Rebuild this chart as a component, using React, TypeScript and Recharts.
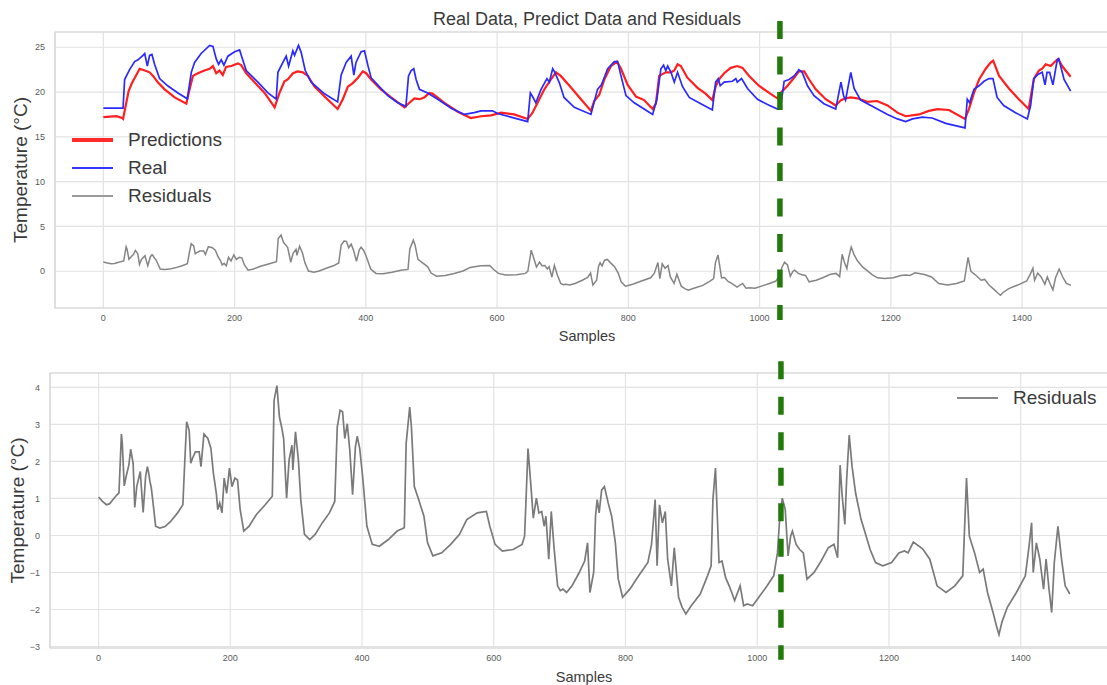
import React from "react";
import {
  ComposedChart,
  Line,
  XAxis,
  YAxis,
  CartesianGrid,
  ReferenceLine,
  ReferenceArea,
  Legend,
} from "recharts";

// x ticks shared by both panels
const sampleTicks = [0, 200, 400, 600, 800, 1000, 1200, 1400];
const topTempTicks = [0, 5, 10, 15, 20, 25];
const residualTicks = [-3, -2, -1, 0, 1, 2, 3, 4];

// train / test split marker (sample index)
const splitTop = 1031;
const splitBottom = 1036;

// [sample, temperature]
const real: [number, number][] = [
  [0, 18.2], [30, 18.2], [32.4, 21.4], [40, 22.5], [47.7, 23.4], [52.8, 23.6], [60.4, 24.1], [63, 24.3],
  [67, 22.9], [70.5, 24.1], [74, 24.2], [78, 23.1], [85.7, 21.5], [98, 20.7], [113.6, 19.9], [127.9, 19.25],
  [134, 22.2], [139, 23.3], [149, 24.3], [162, 25.2], [167, 25.1], [172, 23.7], [175.6, 23.1], [179.6, 23.6],
  [183.7, 23.0], [189.8, 24.0], [200, 24.5], [207.6, 24.7], [211, 23.9], [217.7, 22.4], [235.5, 21.1],
  [250.8, 19.9], [263.4, 19.2], [266, 22.2], [273.6, 23.3], [278.6, 24.0], [282.3, 22.9], [288.8, 24.6],
  [291.3, 24.1], [297.4, 25.2], [301.5, 24.4], [307.6, 22.4], [316.7, 21.1], [337, 19.8], [357, 18.9],
  [362.4, 21.9], [370, 23.3], [377.6, 24.0], [381.7, 21.9], [385, 23.3], [392.8, 24.5], [397.9, 24.6],
  [403, 23.0], [408, 21.6], [418, 20.8], [433.4, 19.6], [448.6, 18.8], [461, 18.4], [465, 21.8], [469, 22.4],
  [473, 22.6], [476.6, 21.4], [481.7, 20.3], [494, 19.9], [509.6, 19.2], [530, 18.2], [550, 17.5], [565, 17.7],
  [575.6, 17.9], [593, 17.9], [600.8, 17.6], [621, 17.2], [646.6, 16.7], [650.7, 19.9], [654, 19.5],
  [659, 18.8], [667, 20.3], [676, 21.5], [679.6, 21.1], [684.7, 22.6], [688, 22.2], [695, 21.0], [702, 19.4],
  [717.7, 18.3], [743, 17.5], [753, 20.3], [759, 20.8], [768.5, 22.6], [778.6, 23.4], [783.7, 23.4],
  [788.8, 21.8], [796.4, 19.6], [809, 18.8], [824, 18.1], [837, 17.5], [843.5, 19.2], [849.6, 22.6],
  [853.7, 23.0], [857, 22.4], [860, 22.9], [865, 22.2], [870, 21.1], [875, 22.2], [882.6, 20.6], [892.8, 19.4],
  [910.5, 18.7], [928, 18.0], [933, 21.1], [937, 21.5], [940, 20.7], [946, 21.1], [958.7, 21.2], [963.8, 21.5],
  [966, 21.1], [972.5, 21.5], [981.6, 20.4], [996.8, 19.2], [1012, 18.6], [1027, 18.1], [1032, 18.3],
  [1037.4, 21.2], [1045, 21.4], [1052.6, 21.8], [1060, 22.5], [1065, 22.2], [1073, 20.7], [1083, 19.6],
  [1098, 18.7], [1116, 18.1], [1124, 21.1], [1128, 19.6], [1131, 19.1], [1139, 22.2], [1144, 20.4],
  [1154, 19.1], [1174.5, 18.3], [1195, 17.5], [1210, 17.0], [1222.6, 16.7], [1233, 17.0], [1248, 17.2],
  [1263, 17.1], [1283.6, 16.5], [1313, 16.0], [1316.5, 19.2], [1320, 18.8], [1326.7, 20.3], [1334.5, 20.7],
  [1342, 21.2], [1349.5, 21.5], [1355.6, 21.5], [1362, 19.4], [1372, 18.5], [1390, 17.7], [1408, 17.0],
  [1413, 18.5], [1418, 21.5], [1424.6, 22.0], [1430.7, 22.2], [1435, 20.8], [1438, 22.2], [1442, 22.2],
  [1447, 20.8], [1453.6, 23.6], [1456, 23.7], [1464, 21.4], [1474, 20.1],
];

const predictions: [number, number][] = [
  [0, 17.2], [20, 17.3], [28.4, 17.1], [30, 17.0], [38.5, 20.1], [43.6, 21.0], [50.2, 21.9], [55.3, 22.6],
  [63, 22.4], [70.5, 22.2], [75.6, 21.8], [83, 21.1], [93.4, 20.3], [108.6, 19.4], [126.4, 18.7], [131.4, 20.3],
  [136.5, 21.8], [144, 22.1], [154, 22.4], [162, 22.6], [167, 22.9], [172, 22.1], [177, 22.4], [182, 21.9],
  [187, 22.8], [195, 22.9], [205, 23.2], [210, 23.0], [217.7, 22.1], [230.4, 21.1], [245.7, 19.9], [261, 18.3],
  [268.4, 19.9], [276, 21.2], [281, 21.4], [289, 22.1], [296, 22.3], [304, 22.2], [311.6, 21.8], [321.8, 20.6],
  [337, 19.5], [357, 18.1], [364.9, 19.2], [372.6, 20.6], [380, 21.0], [388, 21.6], [395.4, 22.3], [400.5, 22.1],
  [408, 21.4], [423, 20.3], [438.5, 19.4], [458.8, 18.3], [466.4, 18.8], [474, 19.3], [481.7, 19.2], [489, 19.4],
  [496.9, 19.9], [502, 19.8], [519.7, 18.8], [540, 17.8], [560, 17.1], [575.6, 17.3], [591, 17.4], [606, 17.7],
  [626, 17.5], [646.6, 17.0], [654, 17.7], [661.7, 18.8], [672, 20.3], [682, 21.4], [689.6, 22.2], [697, 21.8],
  [712.6, 20.5], [727.8, 19.2], [743, 17.9], [748, 19.0], [755.7, 19.7], [763.4, 21.4], [773.5, 22.9],
  [782.7, 23.4], [788.8, 22.6], [799, 20.8], [811.6, 19.5], [824, 19.1], [837, 18.1], [842, 18.7], [847, 21.8],
  [857, 22.2], [865, 22.2], [870, 22.4], [875, 23.1], [880, 22.9], [890, 21.6], [905, 20.5], [918, 19.8],
  [928, 19.1], [933, 20.6], [938, 21.4], [946, 22.1], [956, 22.7], [966, 22.9], [974, 22.7], [984, 21.8],
  [999, 20.7], [1014.6, 19.9], [1027, 19.3], [1032, 19.9], [1042.6, 20.7], [1052.6, 21.6], [1060, 22.3],
  [1068, 22.3], [1075.5, 21.4], [1085.6, 20.3], [1100.8, 19.2], [1116, 18.5], [1124, 19.1], [1131, 19.3],
  [1139, 19.4], [1149, 19.3], [1164, 18.9], [1179, 19.0], [1195, 18.5], [1210, 17.7], [1222.6, 17.3],
  [1243, 17.5], [1258, 17.9], [1271, 18.1], [1288.6, 18.0], [1313, 17.0], [1319, 18.1], [1326.7, 19.9],
  [1334.5, 21.4], [1344.6, 22.6], [1352, 23.3], [1356, 23.5], [1365, 21.8], [1380, 20.4], [1395, 19.2],
  [1410, 18.1], [1418, 21.5], [1425.6, 22.4], [1430.7, 22.6], [1436, 23.1], [1443.7, 22.9], [1448.8, 23.3],
  [1455, 23.7], [1461, 22.9], [1474, 21.7],
];

const residuals: [number, number][] = [
  [0, 1.04], [6, 0.92], [12, 0.83], [17, 0.86], [22, 0.97], [28, 1.1], [31, 1.15], [34.7, 2.74], [36, 2.5],
  [39, 1.34], [42, 1.6], [46, 1.9], [48.8, 2.33], [52.5, 1.95], [55, 0.76], [58, 1.32], [63.4, 1.73], [65, 1.3],
  [67.7, 0.62], [71.5, 1.6], [74.2, 1.86], [76, 1.7], [78, 1.46], [80, 1.3], [82.3, 0.95], [86.7, 0.25],
  [93, 0.2], [101, 0.24], [109.4, 0.38], [120, 0.61], [128, 0.83], [131, 2.04], [133.8, 3.07], [137.6, 2.84],
  [140, 1.95], [143, 2.1], [147, 2.26], [152.8, 2.26], [155.5, 1.86], [160, 2.74], [166, 2.62], [170.6, 2.35],
  [174.4, 1.68], [178.8, 1.14], [181, 0.7], [184, 0.88], [187.4, 0.61], [190.7, 1.55], [194.5, 1.14],
  [198.8, 1.82], [202.6, 1.32], [207, 1.55], [211, 1.5], [215, 0.7], [220.5, 0.12], [228.6, 0.25],
  [239.4, 0.56], [253, 0.83], [263.8, 1.06], [266.5, 3.65], [270.8, 4.05], [274.6, 3.2], [278.4, 2.89],
  [281, 2.62], [285.5, 1.01], [289.3, 2.04], [293.6, 2.44], [295, 1.77], [299, 2.8], [303.4, 2.04], [307, 0.97],
  [312.6, 0.03], [320.7, -0.11], [328.8, 0.03], [339.6, 0.34], [350.5, 0.61], [358.6, 0.92], [362.4, 2.93],
  [366.7, 3.38], [370.5, 3.34], [373.8, 2.62], [377.6, 3.02], [381.4, 2.31], [385.7, 1.1], [390, 2.4],
  [392.7, 2.68], [396.5, 2.35], [400.9, 1.6], [407.4, 0.25], [415.5, -0.24], [426.3, -0.29], [440, -0.11],
  [453.4, 0.12], [464.2, 0.21], [467, 2.49], [472.4, 3.47], [475, 2.93], [479.4, 1.32], [486, 0.97],
  [494, 0.52], [499.5, -0.2], [507.6, -0.55], [521, -0.47], [534.6, -0.24], [548, 0.03], [559, 0.43],
  [575, 0.61], [588.8, 0.65], [594, 0.25], [602, -0.24], [613, -0.42], [629.5, -0.38], [643, -0.24],
  [646.8, -0.02], [652, 2.35], [656.5, 1.32], [660, 0.47], [664.7, 1.01], [668.5, 0.61], [672.8, 0.65],
  [676.5, 0.25], [679.2, 0.52], [683.5, -0.64], [687.3, 0.65], [691.6, -0.35], [696.9, -1.36], [701, -1.49],
  [705, -1.45], [710.6, -1.54], [718.8, -1.36], [729.8, -1.0], [738, -0.69], [742.4, -0.2], [746, -1.54],
  [751.7, -1.0], [754.5, 0.52], [757, 0.97], [760, 0.61], [763.8, 1.23], [768, 1.32], [773.7, 0.88],
  [779, 0.52], [784.6, -0.2], [789, -1.18], [795.6, -1.67], [806.6, -1.45], [820, -1.09], [834, -0.73],
  [839.5, -0.24], [845, 0.97], [848, -0.82], [851.6, 0.83], [856, 0.34], [860.4, 0.65], [864, -0.64],
  [869.7, -1.36], [874, -0.33], [880.6, -1.67], [886, -1.94], [891.6, -2.12], [899.8, -1.9], [913.5, -1.58],
  [924.5, -1.09], [930, -0.82], [932.7, 0.97], [936.6, 1.82], [939, 0.7], [942, -0.73], [946.5, -0.69],
  [952, -1.14], [957.4, -1.36], [961.3, -1.54], [965.7, -1.76], [974, -1.36], [979.4, -1.9], [985, -1.85],
  [993, -1.9], [1004, -1.63], [1015, -1.36], [1025, -1.09], [1030.7, -0.47], [1034, 0.43], [1038, 1.01],
  [1042.5, 0.7], [1046.8, -0.55], [1050.7, -0.02], [1053.4, 0.12], [1059, -0.24], [1064.4, -0.38],
  [1070, -0.47], [1075.5, -1.18], [1086.3, -1.0], [1097, -0.69], [1108, -0.33], [1116.5, -0.24], [1122, -0.6],
  [1125.8, 1.9], [1129, 1.06], [1133, 0.3], [1135.7, 1.5], [1139.6, 2.71], [1144, 1.86], [1149.4, 1.14],
  [1157.7, 0.43], [1163, 0.12], [1171.4, -0.38], [1179.6, -0.73], [1190.6, -0.82], [1204, -0.73],
  [1215, -0.47], [1223.5, -0.42], [1229, -0.47], [1237, -0.18], [1251, -0.36], [1262, -0.64], [1273, -1.36],
  [1286.6, -1.54], [1300, -1.36], [1312, -1.09], [1317.7, 1.55], [1322, -0.02], [1330, -0.47], [1337.6, -1.0],
  [1343, -0.91], [1349.6, -1.54], [1358, -2.08], [1363, -2.43], [1367, -2.68], [1371.5, -2.34],
  [1379.7, -1.94], [1393.4, -1.54], [1407, -1.09], [1412.7, -0.29], [1416.5, 0.34], [1419, -1.0],
  [1423.8, -0.2], [1429, -0.64], [1434.7, -1.45], [1438.5, -0.64], [1443, -1.45], [1447, -2.08], [1451, -0.73],
  [1456.5, 0.25], [1462, -0.64], [1467.5, -1.36], [1474.6, -1.58],
];

const toRows = (pts: [number, number][]) => pts.map(([s, v]) => ({ s, v }));
const realRows = toRows(real);
const predRows = toRows(predictions);
const residRows = toRows(residuals);

const X_DOMAIN: [number, number] = [-73.7, 1547.7];
const TOP_Y: [number, number] = [-4.1, 26.7];
const BOTTOM_Y: [number, number] = [-3.04, 4.39];

const GRID = "#e3e3e3";
const SPINE = "#d6d6d6";
const TEXT = "#3a3a3a";
const TICK = { fontSize: 9, fill: "#5a5a5a" };
const SPLIT_GREEN = "#217a0a";

const minus = (v: number) => (v < 0 ? `\u2212${-v}` : `${v}`);

const tempLabel = (cx: number) => (props: any) => {
  const vb = props.viewBox;
  const cy = vb.y + vb.height / 2;
  return (
    <text
      x={cx}
      y={cy}
      transform={`rotate(-90 ${cx} ${cy})`}
      textAnchor="middle"
      dominantBaseline="central"
      fontSize={19}
      fill={TEXT}
    >
      Temperature (°C)
    </text>
  );
};

type Entry = { label: string; color: string; width: number };

const LegendBox = ({ items }: { items: Entry[] }) => (
  <div>
    {items.map((it) => (
      <div key={it.label} style={{ display: "flex", alignItems: "center", height: 28 }}>
        <div style={{ width: 41, height: it.width, background: it.color, marginRight: 15 }} />
        <span style={{ fontSize: 19, color: TEXT, whiteSpace: "nowrap" }}>{it.label}</span>
      </div>
    ))}
  </div>
);

const topLegend: Entry[] = [
  { label: "Predictions", color: "#ff2a2a", width: 3.5 },
  { label: "Real", color: "#3535ff", width: 1.6 },
  { label: "Residuals", color: "#9a9a9a", width: 2 },
];
const bottomLegend: Entry[] = [{ label: "Residuals", color: "#888", width: 2 }];

export default function App() {
  return (
    <div
      style={{
        position: "absolute",
        left: 0,
        top: 0,
        width: 1107,
        height: 685,
        overflow: "hidden",
        background: "#fff",
        fontFamily: '"Liberation Sans", Arial, sans-serif',
      }}
    >
      <div style={{ position: "absolute", left: 0, top: 0 }}>
        <ComposedChart width={1119} height={345} margin={{ top: 32, right: 0, bottom: 0, left: 0 }}>
          <CartesianGrid stroke={GRID} strokeWidth={1.2} />
          <XAxis
            type="number"
            dataKey="s"
            domain={X_DOMAIN}
            ticks={sampleTicks}
            allowDataOverflow
            height={37}
            tickLine={false}
            axisLine={false}
            tickSize={0}
            tickMargin={7}
            tick={TICK}
            label={{ value: "Samples", position: "insideBottom", offset: 4, fontSize: 14.5, fill: TEXT }}
          />
          <YAxis
            type="number"
            domain={TOP_Y}
            ticks={topTempTicks}
            allowDataOverflow
            width={55}
            tickLine={false}
            axisLine={false}
            tickSize={0}
            tickMargin={10}
            tick={TICK}
            tickFormatter={minus}
            label={tempLabel(20)}
          />
          <ReferenceArea
            x1={X_DOMAIN[0]}
            x2={X_DOMAIN[1]}
            y1={TOP_Y[0]}
            y2={TOP_Y[1]}
            fill="none"
            fillOpacity={0}
            stroke={SPINE}
            strokeWidth={1.2}
          />
          <Line data={predRows} dataKey="v" name="Predictions" type="linear" stroke="#ff1f1f" strokeWidth={2.2} dot={false} isAnimationActive={false} />
          <Line data={realRows} dataKey="v" name="Real" type="linear" stroke="#2a2aff" strokeWidth={1.7} dot={false} isAnimationActive={false} />
          <Line data={residRows} dataKey="v" name="Residuals" type="linear" stroke="#858585" strokeWidth={1.5} dot={false} isAnimationActive={false} />
          <ReferenceLine
            segment={[{ x: splitTop, y: 27.93 }, { x: splitTop, y: -5.44 }]}
            stroke={SPLIT_GREEN}
            strokeWidth={5.5}
            strokeDasharray="18 17.5"
            ifOverflow="visible"
          />
          <Legend
            layout="vertical"
            align="center"
            verticalAlign="middle"
            wrapperStyle={{ left: 72, top: 126, width: 200 }}
            content={() => <LegendBox items={topLegend} />}
          />
        </ComposedChart>
      </div>

      <div style={{ position: "absolute", left: 0, top: 345 }}>
        <ComposedChart width={1118} height={340} margin={{ top: 28, right: 0, bottom: 0, left: 0 }}>
          <CartesianGrid stroke={GRID} strokeWidth={1.2} />
          <XAxis
            type="number"
            dataKey="s"
            domain={X_DOMAIN}
            ticks={sampleTicks}
            allowDataOverflow
            height={37}
            tickLine={false}
            axisLine={false}
            tickSize={0}
            tickMargin={7}
            tick={TICK}
            label={{ value: "Samples", position: "insideBottom", offset: 3, fontSize: 14.5, fill: TEXT }}
          />
          <YAxis
            type="number"
            domain={BOTTOM_Y}
            ticks={residualTicks}
            allowDataOverflow
            width={50}
            tickLine={false}
            axisLine={false}
            tickSize={0}
            tickMargin={10}
            tick={TICK}
            tickFormatter={minus}
            label={tempLabel(17)}
          />
          <ReferenceArea
            x1={X_DOMAIN[0]}
            x2={X_DOMAIN[1]}
            y1={BOTTOM_Y[0]}
            y2={BOTTOM_Y[1]}
            fill="none"
            fillOpacity={0}
            stroke={SPINE}
            strokeWidth={1.2}
          />
          <Line data={residRows} dataKey="v" name="Residuals" type="linear" stroke="#7a7a7a" strokeWidth={1.7} dot={false} isAnimationActive={false} />
          <ReferenceLine
            segment={[{ x: splitBottom, y: 4.71 }, { x: splitBottom, y: -3.36 }]}
            stroke={SPLIT_GREEN}
            strokeWidth={5.5}
            strokeDasharray="18 17.5"
            ifOverflow="visible"
          />
          <Legend
            layout="vertical"
            align="center"
            verticalAlign="middle"
            wrapperStyle={{ left: 957, top: 39, width: 160 }}
            content={() => <LegendBox items={bottomLegend} />}
          />
        </ComposedChart>
      </div>

      <div
        style={{
          position: "absolute",
          left: 0,
          top: 9,
          width: 1174,
          textAlign: "center",
          fontSize: 18,
          lineHeight: "20px",
          color: TEXT,
        }}
      >
        Real Data, Predict Data and Residuals
      </div>
    </div>
  );
}
